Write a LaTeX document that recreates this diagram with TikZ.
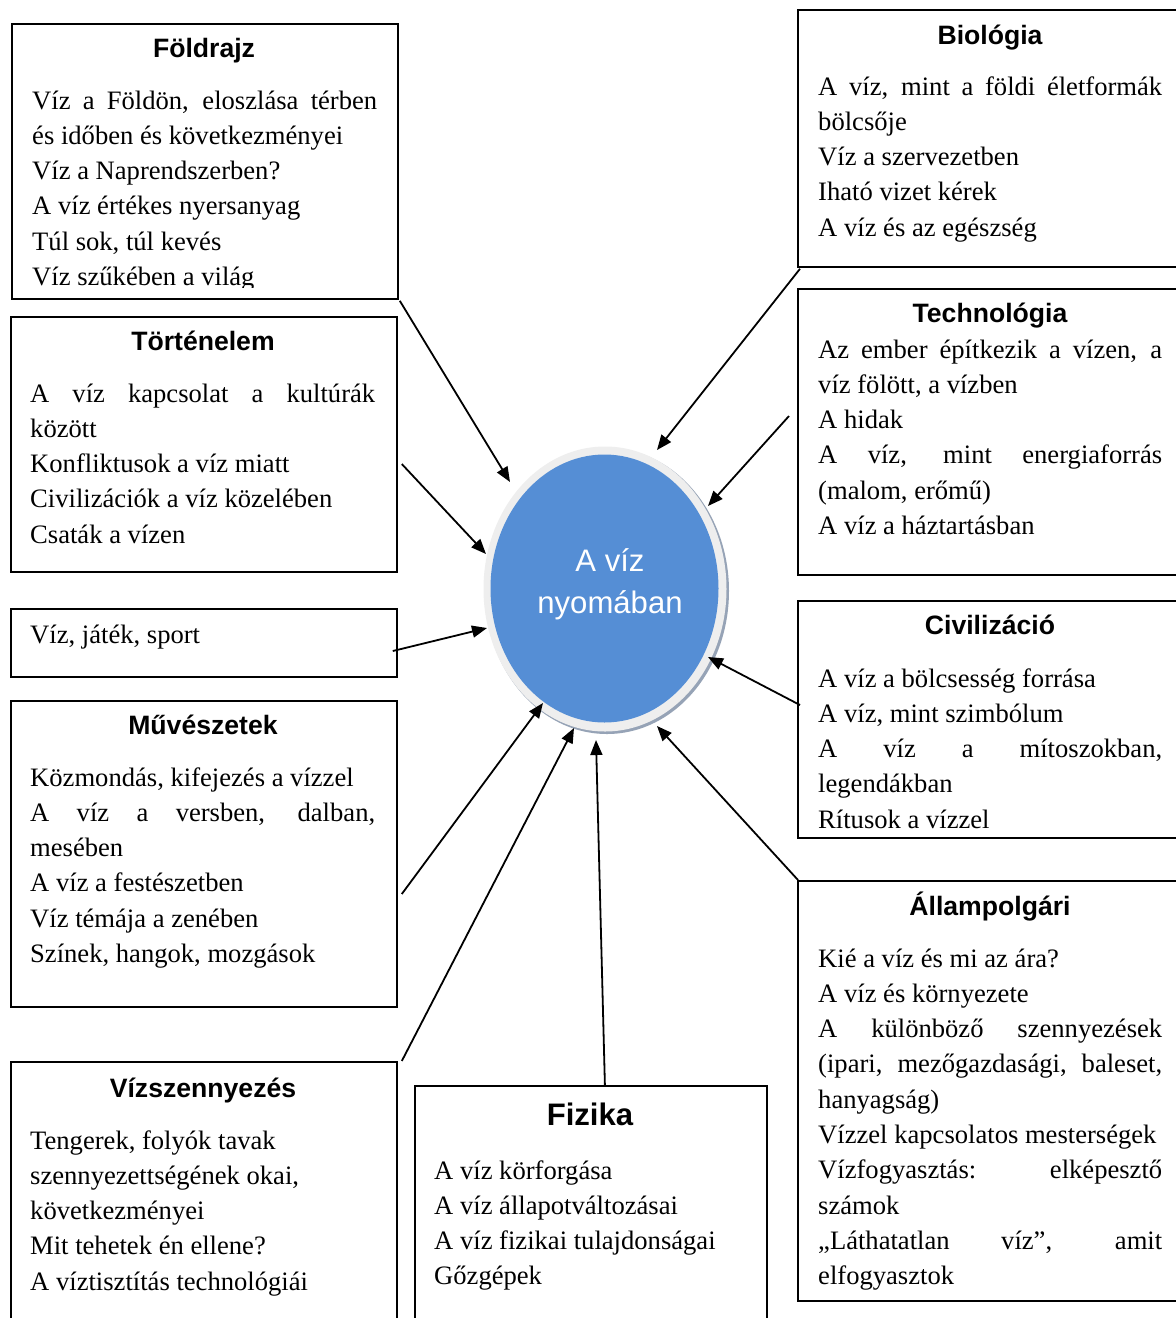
\documentclass[tikz,border=0pt]{standalone}
\usepackage{fontspec}
\setmainfont{Liberation Serif}
\newfontfamily\headfont{Liberation Sans}
\usetikzlibrary{arrows.meta,calc,shapes.geometric}
\definecolor{vizblue}{RGB}{85,142,213}
\definecolor{ringgray}{RGB}{238,238,238}
\definecolor{shadowc}{RGB}{150,163,182}
\newcommand\J[1]{\makebox[\linewidth][s]{#1}}
\begin{document}
\begin{tikzpicture}[x=1pt,y=-1pt,
  box/.style={draw=black, line width=1.8pt, rectangle, anchor=north west, inner sep=0pt},
  head/.style={anchor=base, inner sep=0pt, font=\headfont\bfseries\fontsize{26.6}{30}\selectfont},
  bighead/.style={anchor=base, inner sep=0pt, font=\headfont\bfseries\fontsize{31.1}{36}\selectfont},
  body/.style={anchor=base west, inner sep=0pt, font=\fontsize{26.6}{35.3}\selectfont},
  ctext/.style={anchor=base, inner sep=0pt, text=white, font=\headfont\fontsize{31.1}{36}\selectfont},
  conn/.style={line width=1.8pt, -{Triangle[length=15pt,width=12pt]}},
]
\clip (0,0) rectangle (1176,1318);
\fill[white] (0,0) rectangle (1176,1318);

% central ellipse
\node[ellipse, fill=shadowc, inner sep=0pt, minimum width=244pt, minimum height=286pt] (shadow) at (607,591) {};
\node[ellipse, fill=ringgray, inner sep=0pt, minimum width=243pt, minimum height=285pt] (ring) at (605,589) {};
\node[ellipse, fill=vizblue, inner sep=0pt, minimum width=228pt, minimum height=268pt] (c) at (604.5,588.5) {};
\node[ctext] (c1) at (610,571) {A víz};
\node[ctext] (c2) at (610,613) {nyomában};

% left boxes
\node[box, minimum width=386pt, minimum height=275pt] (fold) at (11,23) {};
\node[head] (foldh) at (204,57) {Földrajz};
\begin{scope}
\clip (11,23) rectangle (397,287.5);
\node[body] (foldt) at (32,109) {\parbox[t]{345pt}{\J{Víz a Földön, eloszlása térben}\\
és időben és következményei\\
Víz a Naprendszerben?\\
A víz értékes nyersanyag\\
Túl sok, túl kevés\\
Víz szűkében a világ}};
\end{scope}

\node[box, minimum width=386pt, minimum height=255pt] (hist) at (10,316) {};
\node[head] (histh) at (203,350) {Történelem};
\node[body] (histt) at (30,402) {\parbox[t]{345pt}{\J{A víz kapcsolat a kultúrák}\\
között\\
Konfliktusok a víz miatt\\
Civilizációk a víz közelében\\
Csaták a vízen}};

\node[box, minimum width=386pt, minimum height=68pt] (sport) at (10,608) {};
\node[body] (sportt) at (30,643) {Víz, játék, sport};

\node[box, minimum width=386pt, minimum height=306pt] (muv) at (10,700) {};
\node[head] (muvh) at (203,734) {Művészetek};
\node[body] (muvt) at (30,786) {\parbox[t]{345pt}{Közmondás, kifejezés a vízzel\\
\J{A víz a versben, dalban,}\\
mesében\\
A víz a festészetben\\
Víz témája a zenében\\
Színek, hangok, mozgások}};

\node[box, minimum width=386pt, minimum height=280pt] (szenny) at (10,1061) {};
\node[head] (szennyh) at (203,1097) {Vízszennyezés};
\node[body] (szennyt) at (30,1149) {\parbox[t]{345pt}{Tengerek, folyók tavak\\
szennyezettségének okai,\\
következményei\\
Mit tehetek én ellene?\\
A víztisztítás technológiái}};

\node[box, minimum width=352pt, minimum height=260pt] (fiz) at (414,1085) {};
\node[bighead] (fizh) at (590,1125) {Fizika};
\node[body] (fizt) at (434,1179) {\parbox[t]{330pt}{A víz körforgása\\
A víz állapotváltozásai\\
A víz fizikai tulajdonságai\\
Gőzgépek}};

% right boxes
\node[box, minimum width=400pt, minimum height=257pt] (bio) at (797,9) {};
\node[head] (bioh) at (990,44) {Biológia};
\node[body] (biot) at (818,95) {\parbox[t]{344pt}{\J{A víz, mint a földi életformák}\\
bölcsője\\
Víz a szervezetben\\
Iható vizet kérek\\
A víz és az egészség}};

\node[box, minimum width=400pt, minimum height=286pt] (tech) at (797,288) {};
\node[head] (techh) at (990,322) {Technológia};
\node[body] (techt) at (818,358) {\parbox[t]{344pt}{\J{Az ember építkezik a vízen, a}\\
víz fölött, a vízben\\
A hidak\\
\J{A víz, mint energiaforrás}\\
(malom, erőmű)\\
A víz a háztartásban}};

\node[box, minimum width=400pt, minimum height=237pt] (civ) at (797,600) {};
\node[head] (civh) at (990,634) {Civilizáció};
\node[body] (civt) at (818,687) {\parbox[t]{344pt}{A víz a bölcsesség forrása\\
A víz, mint szimbólum\\
\J{A víz a mítoszokban,}\\
legendákban\\
Rítusok a vízzel}};

\node[box, minimum width=400pt, minimum height=420pt] (allam) at (797,880) {};
\node[head] (allamh) at (990,915) {Állampolgári};
\node[body] (allamt) at (818,967) {\parbox[t]{344pt}{Kié a víz és mi az ára?\\
A víz és környezete\\
\J{A különböző szennyezések}\\
\J{(ipari, mezőgazdasági, baleset,}\\
hanyagság)\\
Vízzel kapcsolatos mesterségek\\
\J{Vízfogyasztás: elképesztő}\\
számok\\
\J{„Láthatatlan víz”, amit}\\
elfogyasztok}};

% arrow tips
\coordinate (p1) at (510,482);
\coordinate (p2) at (486,554);
\coordinate (p3) at (487,628);
\coordinate (p4) at (543,703);
\coordinate (p5) at (574,728);
\coordinate (p6) at (596,740);
\coordinate (p7) at (657,726);
\coordinate (p8) at (708,657);
\coordinate (p9) at (708,506);
\coordinate (p10) at (657,450);

\draw[conn] ($(fold.south east)+(1,1)$) -- (p1);
\draw[conn] ($(hist.north east)+(4,148)$) -- (p2);
\draw[conn] ($(sport.north east)+(-5,43)$) -- (p3);
\draw[conn] ($(muv.north east)+(4,194)$) -- (p4);
\draw[conn] ($(szenny.north east)+(4,0)$) -- (p5);
\draw[conn] ($(fiz.north)+(14,0)$) -- (p6);
\draw[conn] ($(allam.north west)+(1,0)$) -- (p7);
\draw[conn] ($(civ.north west)+(3,105)$) -- (p8);
\draw[conn] ($(tech.north west)+(-8,128)$) -- (p9);
\draw[conn] ($(bio.south west)+(3,1)$) -- (p10);
\end{tikzpicture}
\end{document}
